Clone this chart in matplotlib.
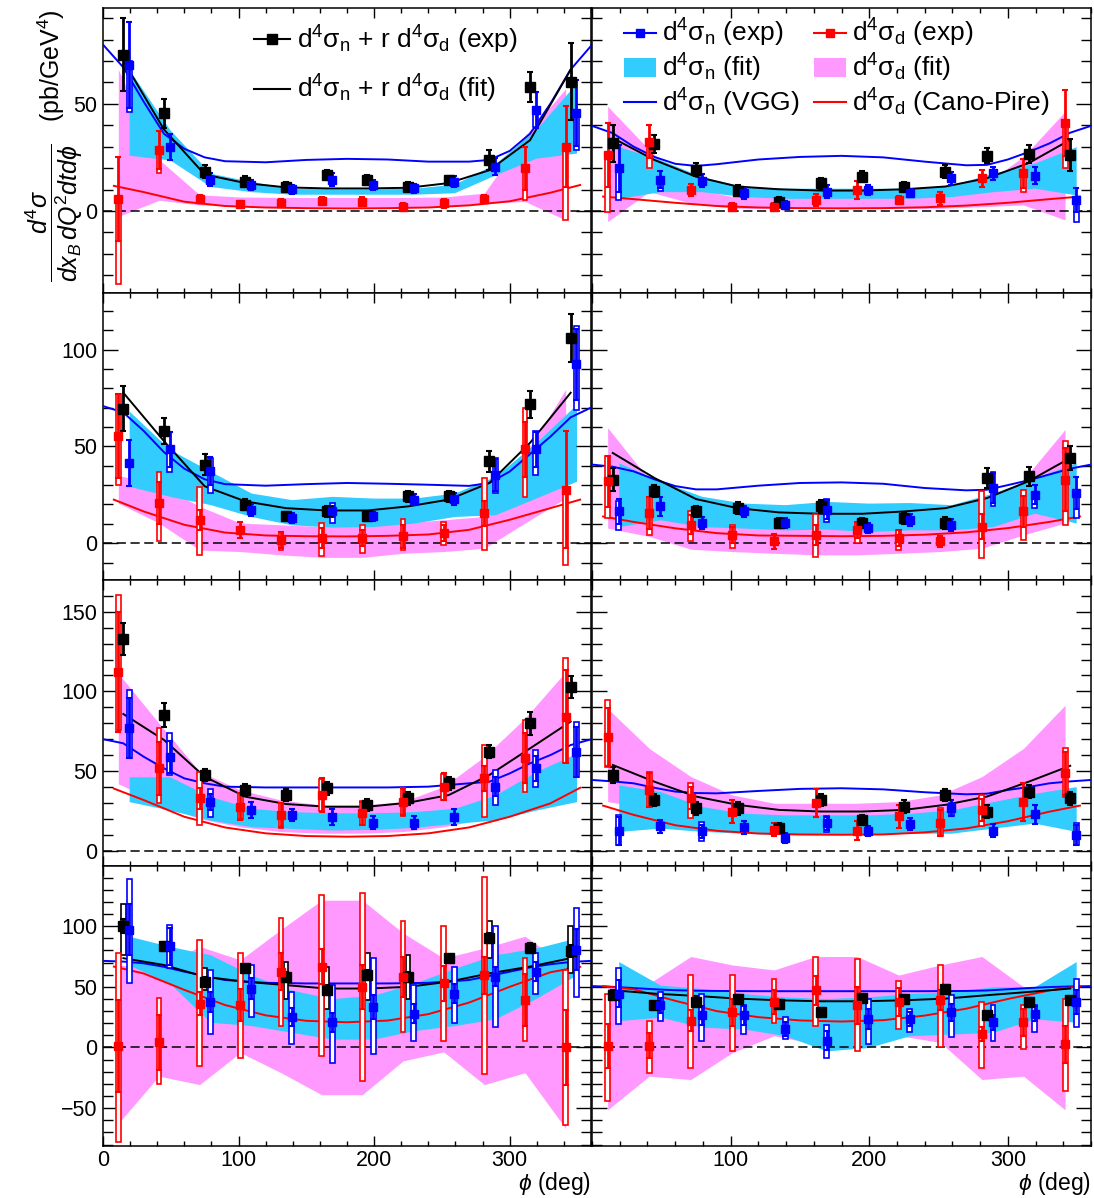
#!/usr/bin/python3
# DVCS cross sections on neutron / deuteron, 4 kinematic rows x 2 columns
import numpy as np
import matplotlib
matplotlib.use('Agg')
import matplotlib.pyplot as plt
from matplotlib.patches import Rectangle, Patch
from matplotlib.lines import Line2D
from matplotlib.ticker import MultipleLocator
# ------------------------------------------------------------------

plt.rcParams['font.family'] = ['Liberation Sans', 'DejaVu Sans']
plt.rcParams['mathtext.fontset'] = 'custom'
plt.rcParams['mathtext.rm'] = 'Liberation Sans'
plt.rcParams['mathtext.it'] = 'Liberation Sans:italic'
plt.rcParams['mathtext.bf'] = 'Liberation Sans:bold'

N = np.nan

# ------------------------------------------------------------------
# Data, panels ordered row by row: (row1 left, row1 right, row2 left, ...)
phi_bins = [15, 45, 75, 105, 135, 165, 195, 225, 255, 285, 315, 345]

# d4sigma_n + r d4sigma_d (exp)
black_val = [
    [72.9, 45.6, 18.4, 13.7, 11.4, 16.8, 14.5, 11.4, 14.5, 23.8, 58.0, 60.4],
    [31.6, 31.3, 19.2, 9.5, 4.4, 12.9, 16.0, 11.4, 18.4, 25.7, 26.6, 26.2],
    [69.4, 57.9, 40.6, 19.9, 13.8, 16.4, 13.8, 24.2, 24.2, 42.3, 71.7, 106.2],
    [32.8, 26.8, 16.4, 18.1, 10.4, 19.0, 10.4, 13.0, 10.4, 33.7, 34.5, 44.0],
    [132.6, 85.1, 47.5, 38.1, 34.9, 39.1, 28.7, 32.8, 42.3, 62.1, 79.9, 102.9],
    [47.5, 31.9, 26.7, 26.7, 14.2, 31.9, 19.4, 27.7, 35.0, 24.6, 37.1, 32.9],
    [100.0, 83.3, 54.2, 65.3, 58.3, 47.2, 59.7, 58.3, 73.6, 90.3, 82.0, 79.2],
    [43.1, 34.7, 37.5, 40.3, 36.1, 29.2, 40.8, 40.3, 48.6, 26.4, 37.5, 38.9],
]
black_err = [
    [17, 6.7, 3, 2.5, 2, 2.5, 2.5, 2, 2, 4.5, 7, 18],
    [8.6, 4.2, 3, 2.5, 2, 2.5, 2.5, 2, 3, 3.5, 4, 7.6],
    [11.6, 6.9, 5.3, 3, 2.5, 3, 2.5, 3, 3, 5.3, 7, 12.4],
    [6, 3, 3, 3, 2.5, 3.5, 2.5, 3, 3, 5, 5, 6],
    [10, 7.4, 4, 4, 4, 4, 3.5, 4, 4, 4, 7, 7],
    [5, 4, 4, 4, 3, 4, 3, 4, 4, 4, 4, 4],
    [6, 4, 4, 3, 4, 4, 4, 4, 3, 4, 4, 5],
    [4, 3, 3, 3, 3, 3, 3, 3, 3, 3, 3, 3],
]
black_box_lo = [
    [N] * 12, [N] * 12, [N] * 12, [N] * 12, [N] * 12, [N] * 12,
    [76.4, N, 47.2, N, 40.3, 31.9, 38.9, 40.3, N, 74.0, N, 61.0],
    [N] * 12,
]
black_box_hi = [
    [N] * 12, [N] * 12, [N] * 12, [N] * 12, [N] * 12, [N] * 12,
    [118.0, N, 65.3, N, 70.8, 66.7, 77.8, 76.4, N, 104.0, N, 100.0],
    [N] * 12,
]

# d4sigma_n (exp)
blue_val = [
    [68.0, 30.0, 14.5, 12.1, 10.1, 14.5, 12.1, 10.6, 13.7, 20.7, 47.0, 45.6],
    [19.9, 14.5, 14.2, 8.3, 2.8, 9.0, 9.8, 8.3, 15.3, 17.6, 16.4, 5.1],
    [41.5, 48.4, 37.1, 17.3, 13.0, 16.4, 13.8, 22.5, 22.8, 35.4, 48.4, 92.4],
    [16.4, 19.0, 10.4, 16.4, 10.4, 17.3, 7.8, 12.1, 9.5, 28.5, 25.0, 25.9],
    [76.8, 59.0, 30.8, 25.5, 22.4, 21.3, 17.6, 17.6, 21.3, 40.2, 51.7, 62.1],
    [12.1, 15.2, 12.1, 14.6, 7.9, 17.3, 12.5, 16.7, 26.7, 12.5, 22.9, 10.0],
    [97.2, 83.3, 37.5, 48.6, 25.0, 20.8, 33.3, 27.8, 44.4, 58.3, 62.5, 80.6],
    [44.4, 34.7, 26.4, 26.4, 15.3, 5.6, 23.6, 23.6, 29.2, 20.8, 27.8, 37.5],
]
blue_err = [
    [20, 6, 3, 2.5, 2, 3, 2.5, 2, 2.5, 4, 8.5, 15.5],
    [10.9, 4, 3, 2.5, 2, 3, 2.5, 2, 3, 3, 4, 5.5],
    [12, 9, 7.3, 3, 2.5, 3, 2.5, 3, 3, 8.2, 9, 18.3],
    [6.5, 5, 3, 3, 2.5, 5, 2.5, 3, 3, 7.8, 5, 8.2],
    [18.8, 10, 5, 5, 4, 5, 4, 4, 5, 6, 8, 15.7],
    [8.8, 4, 4, 4, 3, 4, 3, 4, 5, 4, 6, 6.3],
    [20.8, 15.3, 8.3, 8.3, 7.6, 8, 10, 8, 8, 8, 8, 16.7],
    [11.2, 6, 8, 8, 6, 8, 8, 6, 7, 6, 6, 9.7],
]
blue_box_lo = [
    [46.0, N, N, N, N, N, N, N, N, N, 39.0, 28.5],
    [5.0, 9.5, N, N, N, N, N, N, N, N, N, -5.0],
    [N, 37.0, 26.0, N, N, 10.4, N, N, N, 26.0, 35.4, 69.0],
    [7.0, N, N, N, N, 11.0, N, N, N, 19.0, 18.0, 13.0],
    [58.0, 47.5, 21.3, N, N, N, N, N, N, 28.7, 40.2, 46.0],
    [3.8, N, 6.0, N, N, 12.0, N, N, 22.0, N, N, 3.8],
    [52.8, 65.3, 11.1, 25.0, 2.8, -12.5, -5.6, 5.6, 20.3, 16.7, 44.4, 41.7],
    [19.4, 22.2, 5.6, 11.1, 6.9, -8.3, 2.8, 13.1, 8.3, 5.6, 12.5, 16.7],
]
blue_box_hi = [
    [70.0, N, N, N, N, N, N, N, N, N, 48.0, 46.0],
    [20.0, 15.0, N, N, N, N, N, N, N, N, N, 5.0],
    [N, 48.0, 44.0, N, N, 20.7, N, N, N, 44.0, 57.9, 112.0],
    [22.0, N, N, N, N, 23.0, N, N, N, 36.6, 26.0, 26.0],
    [101.0, 73.6, 39.0, N, N, N, N, N, N, 50.6, 63.2, 81.0],
    [22.5, N, 18.0, N, N, 22.0, N, N, 30.0, N, N, 17.7],
    [138.9, 101.0, 63.9, 68.0, 45.8, 51.4, 73.6, 51.4, 66.7, 100.0, 77.8, 115.0],
    [65.3, 45.8, 44.4, 34.7, 25.0, 18.6, 40.3, 31.9, 43.1, 35.3, 35.3, 56.4],
]

# d4sigma_d (exp)
red_val = [
    [5.5, 28.5, 5.5, 3.3, 3.9, 4.7, 4.4, 2.0, 3.6, 5.6, 20.0, 30.0],
    [26.2, 32.4, 9.8, 2.0, 2.0, 5.1, 9.8, 5.1, 5.9, 15.3, 17.6, 41.0],
    [55.3, 20.7, 12.1, 6.9, 1.7, 2.6, 2.6, 3.5, 5.2, 15.5, 48.4, 27.6],
    [32.0, 15.5, 9.5, 4.3, 0.9, 4.3, 6.9, 2.6, 0.9, 8.6, 16.4, 32.8],
    [112.3, 51.7, 32.8, 27.6, 22.4, 34.9, 23.4, 30.8, 40.2, 45.4, 57.9, 84.1],
    [71.5, 38.1, 32.9, 24.6, 13.1, 29.8, 12.5, 21.5, 17.3, 25.6, 30.8, 48.5],
    [1.4, 4.2, 36.1, 34.7, 62.5, 66.7, 50.0, 58.3, 52.8, 59.7, 38.9, 0.0],
    [1.4, 1.4, 22.2, 29.2, 37.5, 47.2, 34.7, 37.5, 38.9, 11.1, 20.8, 2.8],
]
red_err = [
    [19.5, 9, 2, 1.5, 1.5, 2, 2, 1.5, 2, 2, 10, 19],
    [15, 7.5, 3, 1.5, 1.5, 3, 4, 2, 3, 4, 6.7, 15.5],
    [21.8, 10.7, 5.2, 4, 4, 5, 4, 6, 4, 6.5, 14.2, 30.2],
    [13.2, 8.2, 5, 4, 4, 5, 4, 4, 3, 6.5, 8.2, 16.4],
    [37.5, 16.8, 6.8, 8.4, 7.8, 10.5, 7.3, 8.3, 8.4, 7.8, 15.7, 29.3],
    [18.3, 10.4, 6.8, 7, 4, 8.7, 6, 7, 8, 7, 11.9, 13.5],
    [38, 22.5, 9.7, 13.2, 15.3, 14.6, 18, 16.3, 14.6, 15.3, 21.5, 30.6],
    [18, 10.4, 9, 11.1, 9.7, 11.8, 15.3, 11.8, 8.3, 5.6, 11.1, 15.3],
]
red_box_lo = [
    [-34.0, 17.6, N, N, N, N, N, N, N, N, 5.0, -4.2],
    [-0.3, 20.0, N, N, N, N, N, N, N, N, 9.0, 20.0],
    [30.0, 0.9, -6.0, N, -3.5, -6.6, -5.0, -3.5, -1.0, -3.5, 24.0, -11.0],
    [13.0, 4.0, 0.9, -2.6, N, -6.9, 0.0, -3.5, N, -7.8, 1.7, 9.5],
    [75.7, 29.7, 16.1, 20.0, 14.0, 25.0, 16.0, 22.0, 32.0, 21.3, 37.0, 54.8],
    [52.7, 27.7, 20.8, N, N, N, N, N, 9.0, 15.2, N, 34.0],
    [-77.8, -29.7, -15.3, -8.3, 18.1, -6.9, -27.8, 12.5, 5.6, -22.2, 5.6, -63.9],
    [-44.4, -20.8, -16.7, -2.8, 20.3, 18.1, -2.8, 15.3, 0.8, -16.7, -1.4, -36.1],
]
red_box_hi = [
    [6.0, 29.0, N, N, N, N, N, N, N, N, 20.0, 30.0],
    [26.0, 32.0, N, N, N, N, N, N, N, N, 18.0, 41.0],
    [77.0, 37.0, 29.0, N, 6.0, 10.4, 9.5, 12.4, 11.0, 33.7, 70.0, 28.0],
    [45.0, 24.0, 16.4, 9.5, N, 15.2, 10.4, 6.9, N, 26.8, 27.6, 52.7],
    [160.5, 76.8, 49.6, 36.0, 29.7, 45.0, 31.0, 39.0, 48.0, 66.3, 82.0, 120.7],
    [94.4, 49.2, 42.3, N, N, N, N, N, 26.7, 35.0, N, 64.2],
    [77.8, 40.8, 88.9, 77.8, 106.4, 125.8, 127.2, 104.2, 100.0, 140.3, 73.6, 63.9],
    [44.4, 22.2, 59.7, 59.7, 56.4, 74.4, 73.1, 54.7, 68.0, 37.5, 34.7, 40.3],
]

# fit of the sum
fit_sum = [
    [70, 38, 17, 13, 11, 10.5, 10.5, 10.8, 13, 19, 33, 66],
    [34, 23.8, 16, 11.4, 10.1, 9.5, 9.5, 10.1, 11.4, 15.3, 22.3, 33.2],
    [77.7, 52.7, 29.4, 21.6, 18.1, 16.9, 16.9, 19, 22.5, 31.1, 51.8, 77.7],
    [46.6, 33.7, 22.8, 18.1, 15.9, 15.2, 15.2, 16.4, 18.1, 23.3, 32, 44],
    [85.8, 69.5, 46.4, 33.9, 29.3, 27.6, 27.6, 30.1, 34.9, 47.5, 64.2, 81],
    [53.8, 43.3, 34, 28.8, 25.6, 24.6, 24.6, 25.6, 28.8, 34, 43.3, 53.3],
    [73.6, 68, 58.3, 54.2, 51.4, 48.6, 48.6, 50, 54.2, 61.1, 66.7, 73.6],
    [47.2, 44.4, 42.5, 40.3, 38.9, 38.1, 38.1, 38.9, 40.3, 43.1, 45.8, 48.6],
]

# d4sigma_n (fit) band
cyan_lo = [
    [26, 23.8, 11.4, 9, 7.8, 7.8, 7.8, 7.8, 8.5, 16.8, 24.6, 27],
    [5.9, 9, 9, 6.7, 5.9, 5.9, 5.9, 5.9, 6.7, 9, 10.6, 7.5],
    [29.4, 24.2, 19.9, 13.8, 9.5, 8.3, 8.6, 10.4, 13.8, 14.7, 23.3, 32],
    [8.6, 12.1, 8.6, 7.8, 6.9, 7.3, 6, 6.9, 6.9, 8.6, 15.5, 10.4],
    [30.8, 25.5, 19.2, 15.1, 14, 13, 13.4, 14.6, 17.2, 19.2, 25.5, 30.8],
    [12.1, 14.2, 12.1, 11, 10, 10, 10.4, 11, 11, 14.2, 17.3, 12.1],
    [68, 52.8, 20.8, 18.1, 12.5, 6.9, 6.9, 13.9, 18.1, 23.6, 40.3, 59.7],
    [22.2, 25, 16.7, 15.3, 9.7, -2.8, 0, 9.7, 11.1, 12.5, 23.6, 20.8],
]
cyan_hi = [
    [66, 37.9, 17.6, 13.7, 10.6, 10.3, 10.3, 10.6, 12.5, 22, 37.9, 59.7],
    [30, 23.8, 16, 11.4, 10.6, 10.6, 10.6, 10.6, 12.1, 17.6, 22.3, 30],
    [68.2, 48.4, 37.1, 25.9, 22.5, 24.2, 23.3, 23.3, 25.9, 34.5, 51.8, 71.7],
    [41.5, 32, 24.2, 20.7, 19.9, 21.6, 20.7, 21, 19.9, 25.9, 33.7, 41.5],
    [46.4, 46.4, 33.9, 26.6, 24.5, 23.8, 23.8, 24.5, 26.6, 34.9, 49.6, 61.1],
    [41.3, 37.1, 27.7, 23.5, 22.5, 22.5, 22.5, 23.5, 25.6, 30.8, 36, 40.2],
    [91.7, 83.3, 76.4, 59.7, 47.2, 40.3, 43, 52.8, 65.3, 76.4, 81.9, 90.3],
    [70.8, 51.4, 48.6, 44.4, 41.7, 40.3, 41.7, 44.4, 45.8, 50, 50, 70.8],
]

# d4sigma_d (fit) band
pink_lo = [
    [-2.6, 5, 2.8, 2.2, 2, 2, 2, 2, 2.2, 3.6, 4.4, -4.2],
    [-5, 9, 3.6, 1.2, 1.2, 1.2, 1.2, 1.2, 1.2, 2, 2.8, -4.2],
    [20.7, 10.4, -3.5, -4.3, -6, -7.3, -7.3, -5.2, -4.3, -2.6, 10.4, 23.3],
    [7.8, 3.5, -3.1, -4.3, -5.2, -6, -6, -5.2, -4.3, -2.6, 4.3, 10.4],
    [42, 30, 20, 15, 12, 11, 11, 12, 15, 20, 28, 40],
    [30.8, 26.7, 22.5, 19.4, 18.3, 17.9, 17.9, 18.8, 20.4, 23.5, 28.8, 32.9],
    [-62.5, -23.6, -30.6, -4.2, -20.8, -38.9, -38.9, -11.1, -3.6, -30.6, -20.8, -66.7],
    [-51.4, -23.6, -26.4, -4.2, 9.7, 2.8, 4.2, 9.7, 4.2, -26.4, -23.6, -51.4],
]
pink_hi = [
    [66, 24, 7.5, 6.5, 6.3, 6.3, 6.3, 6.3, 6.5, 8.3, 35, 57],
    [48.8, 28.5, 10.6, 6.7, 6.7, 6.7, 6.7, 6.7, 6.7, 11.4, 25.4, 46.4],
    [35, 30.2, 19, 10.4, 9.5, 8.6, 8.6, 10.4, 12.1, 13.8, 45, 79.4],
    [59.6, 32.8, 12.1, 9.5, 8.6, 8.6, 9.5, 9.5, 9.5, 12.1, 32.8, 58.7],
    [111.3, 80, 49.6, 38.1, 31.8, 28.7, 28.7, 30.8, 40.2, 59, 83.1, 112.3],
    [89.2, 64.2, 46.5, 35, 29.8, 29.8, 29.8, 30.8, 35, 46.5, 64.2, 91.3],
    [68, 65.3, 83.3, 72.2, 97.2, 121.4, 121.4, 94.4, 73.6, 81.9, 91.7, 68],
    [50, 52.8, 75, 68, 63.9, 75, 75, 59.7, 68, 75, 50, 50],
]

# d4sigma_n (VGG)
phi_vgg = [0, 15, 30, 45, 60, 75, 90, 120, 150, 180, 210, 240, 270, 285, 300, 315, 330, 345, 360]
vgg = [
    [77.6, 67, 51, 36, 29, 25, 23.2, 22.7, 23.8, 24.3, 24, 23, 23, 23.8, 28, 36, 50, 66, 77],
    [39.7, 36.3, 30, 25.2, 22, 21, 21.8, 24, 25.2, 25.7, 25, 23, 21.3, 21.5, 24, 27.5, 31.5, 36.5, 39.7],
    [70.8, 67.5, 58, 47, 38.5, 33, 30.5, 29.7, 30.5, 31.1, 30.7, 30.2, 29.6, 31.1, 37, 46, 55, 65, 70],
    [40.6, 39.5, 37.1, 33, 29.5, 27.8, 27.8, 29.7, 31.1, 31.4, 30.7, 28.5, 27.3, 27.6, 30, 32.5, 35.5, 38.5, 40.6],
    [70, 67.4, 59, 51.7, 45.4, 42.3, 40.2, 39.7, 39.7, 39.7, 39.7, 40.2, 42.3, 43.3, 48.5, 54.8, 60, 66.3, 69.9],
    [44.4, 43.5, 42.3, 39.5, 37.1, 36.2, 36, 37.5, 38.8, 39.2, 38.5, 36.7, 35.4, 35.8, 38.1, 40, 42.3, 43.5, 44.4],
    [71.4, 70.8, 69.4, 66.5, 62.5, 59, 55.6, 53.3, 52.8, 52.8, 52.8, 53.3, 55.6, 59, 62.5, 66, 68.6, 70.5, 71.4],
    [50.6, 50, 49, 48, 47.2, 46.8, 46.6, 46.4, 46.4, 46.4, 46.4, 46.4, 46.6, 47, 48, 49, 49.8, 50.3, 50.6],
]

# d4sigma_d (Cano-Pire)
phi_cp = [8, 30, 60, 90, 120, 150, 180, 210, 240, 270, 300, 330, 352]
cano = [
    [11.7, 8.8, 4.3, 2.3, 1.6, 1.3, 1.2, 1.3, 1.6, 2.6, 4.5, 8.5, 12.1],
    [6.7, 5.5, 3.8, 2.3, 1.6, 1.3, 1.2, 1.3, 1.7, 2.5, 3.8, 5.5, 6.7],
    [22.5, 16.4, 9.5, 5.5, 4, 3.6, 3.5, 3.8, 4.5, 6.9, 12.1, 18.1, 22.5],
    [13.8, 11, 7.7, 5.2, 4, 3.8, 3.6, 3.8, 4.4, 5.6, 7.8, 11, 13.8],
    [39, 31.8, 21.3, 14.6, 10.9, 9.2, 8.8, 9.2, 10.9, 14.6, 21.3, 29.7, 39.5],
    [28.3, 22.5, 16, 12.5, 10.8, 10.2, 10, 10.2, 11.5, 14, 18.5, 24.5, 28.3],
    [66.7, 61, 47.5, 35, 26.5, 22, 20.8, 22.2, 27.5, 37, 50, 62, 66.5],
    [50.6, 48, 38.5, 30, 25, 22.3, 21.4, 22.5, 26.3, 32, 40, 47, 50.6],
]

row_ylim = [(-38.3, 94.7), (-19.0, 129.2), (-9.6, 169.9), (-81.2, 149.6)]
# ------------------------------------------------------------------

BLUE = '#0000ff'
RED = '#ff0000'
CYAN = '#33ccff'
PINK = '#ff99ff'
red_shift = -3.7
blue_shift = 4.3
box_w = 3.6

W, H = 1094, 1198
col_px = [(103, 591), (592, 1091)]
row_px = [(8, 293), (293, 580), (580, 866), (866, 1146)]


def panel_rect(c, r):
    x0, x1 = col_px[c]
    y0, y1 = row_px[r]
    return [x0 / W, 1 - y1 / H, (x1 - x0) / W, (y1 - y0) / H]


def draw_panel(ax, i):
    xb = np.array(phi_bins, float)
    xr = xb + red_shift
    xn = xb + blue_shift
    ax.fill_between(xr, pink_lo[i], pink_hi[i], color=PINK, lw=0, zorder=1)
    ax.fill_between(xn, cyan_lo[i], cyan_hi[i], color=CYAN, lw=0, zorder=1.5)
    ax.axhline(0, color='k', ls=(0, (6, 3)), lw=1.1, zorder=2)
    ax.plot(phi_vgg, vgg[i], color=BLUE, lw=1.4, zorder=3)
    ax.plot(phi_cp, cano[i], color=RED, lw=1.4, zorder=3)
    ax.plot(xb, fit_sum[i], color='k', lw=1.4, zorder=3)

    series = [
        (xb, black_val[i], black_err[i], black_box_lo[i], black_box_hi[i], 'k', 6.5),
        (xn, blue_val[i], blue_err[i], blue_box_lo[i], blue_box_hi[i], BLUE, 5.5),
        (xr, red_val[i], red_err[i], red_box_lo[i], red_box_hi[i], RED, 5.5),
    ]
    for x, val, err, blo, bhi, col, ms in series:
        for xx, lo, hi in zip(x, blo, bhi):
            if np.isnan(lo):
                continue
            ax.add_patch(Rectangle((xx - box_w / 2, lo), box_w, hi - lo,
                                   facecolor='white', edgecolor=col,
                                   lw=1.2, zorder=4))
        ax.errorbar(x, val, yerr=err, fmt='s', ms=ms, color=col, mec=col,
                    elinewidth=2.0, capsize=2.5, capthick=1.5, zorder=5)

    ax.set_xlim(0, 360)
    ax.set_ylim(*row_ylim[i // 2])
    ax.xaxis.set_major_locator(MultipleLocator(100))
    ax.xaxis.set_minor_locator(MultipleLocator(20))
    ax.yaxis.set_major_locator(MultipleLocator(50))
    ax.yaxis.set_minor_locator(MultipleLocator(10))
    ax.tick_params(which='both', direction='in', top=True, right=True,
                   labelsize=15.5, width=1.0)
    ax.tick_params(axis='y', which='major', length=11, pad=4)
    ax.tick_params(axis='y', which='minor', length=7)
    ax.tick_params(axis='x', which='major', length=7, pad=3)
    ax.tick_params(axis='x', which='minor', length=3.6)
    for s in ax.spines.values():
        s.set_linewidth(1.1)


fig = plt.figure(figsize=(W / 100, H / 100), dpi=100)
axes = []
for r in range(4):
    for c in range(2):
        ax = fig.add_axes(panel_rect(c, r))
        draw_panel(ax, 2 * r + c)
        if c == 1:
            ax.tick_params(labelleft=False)
        if r < 3:
            ax.tick_params(labelbottom=False)
        else:
            ax.set_xlabel(r'$\phi$ (deg)', loc='right', fontsize=16.5, labelpad=-1)
            if c == 1:
                ax.set_xticks([100, 200, 300])
        axes.append(ax)

# y title: fraction and unit as two pieces
fig.text(54 / W, 1 - 213 / H,
         r'$\dfrac{d^4\sigma}{dx_{B}\,dQ^2dtd\phi}$',
         rotation=90, ha='center', va='center', fontsize=18)
fig.text(51 / W, 1 - 66 / H, r'(pb/GeV$^4$)',
         rotation=90, ha='center', va='center', fontsize=18)

# legends
lab_n = r'd$^4\mathrm{\sigma}_\mathrm{n}$'
lab_d = r'd$^4\mathrm{\sigma}_\mathrm{d}$'
h_sum = [Line2D([], [], color='k', lw=1.5, marker='s', ms=6.5),
         Line2D([], [], color='k', lw=1.5)]
l_sum = [lab_n + ' + r ' + lab_d + ' (exp)', lab_n + ' + r ' + lab_d + ' (fit)']
axes[0].legend(h_sum, l_sum, loc='upper left', bbox_to_anchor=(0.31, 0.945),
               frameon=False, fontsize=19, handlelength=1.35, handletextpad=0.25,
               borderpad=0, borderaxespad=0, labelspacing=0.65)

h_r = [Line2D([], [], color=BLUE, lw=1.5, marker='s', ms=5.5),
       Patch(color=CYAN, lw=0),
       Line2D([], [], color=BLUE, lw=1.5),
       Line2D([], [], color=RED, lw=1.5, marker='s', ms=5.5),
       Patch(color=PINK, lw=0),
       Line2D([], [], color=RED, lw=1.5)]
l_r = [lab_n + ' (exp)', lab_n + ' (fit)', lab_n + ' (VGG)',
       lab_d + ' (exp)', lab_d + ' (fit)', lab_d + ' (Cano-Pire)']
axes[1].legend(h_r, l_r, loc='upper left', bbox_to_anchor=(0.064, 0.968), ncol=2,
               frameon=False, fontsize=19, handlelength=1.2, handletextpad=0.25,
               borderpad=0, borderaxespad=0, labelspacing=0.1, columnspacing=0.55)

plt.savefig('out.png', dpi=100)
